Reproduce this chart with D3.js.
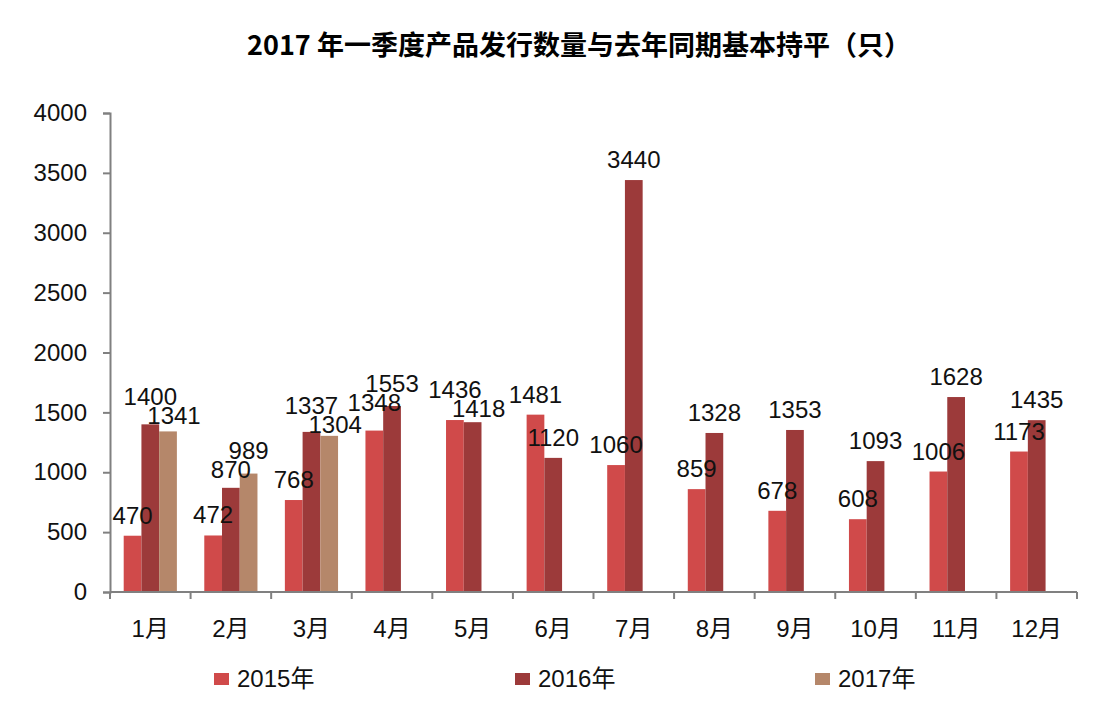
<!DOCTYPE html>
<html><head><meta charset="utf-8">
<script src="https://cdn.jsdelivr.net/npm/d3@7"></script>
<style>
body{margin:0;background:#fff;}
text{font-family:"Liberation Sans","Noto Sans CJK SC",Arial,sans-serif;}
</style></head>
<body><svg id="c" width="1118" height="711"></svg>
<script>
const months = ["1月","2月","3月","4月","5月","6月","7月","8月","9月","10月","11月","12月"];
const seriesNames = ["2015年","2016年","2017年"];
const v2015 = [470,472,768,1348,1436,1481,1060,859,678,608,1006,1173];
const v2016 = [1400,870,1337,1553,1418,1120,3440,1328,1353,1093,1628,1435];
const v2017 = [1341,989,1304,null,null,null,null,null,null,null,null,null];
const yTicks = [0,500,1000,1500,2000,2500,3000,3500,4000];
const colors = ["#d04a4a","#9c3a3a","#b5876a"];
const title = "2017 年一季度产品发行数量与去年同期基本持平（只）";

const svg = d3.select("#c");
const L=110, R=1077, T=113, B=592;
const x0 = d3.scaleBand().domain(months).range([L,R]).paddingInner(0.34).paddingOuter(0.17);
const x1 = d3.scaleBand().domain(seriesNames).range([0,x0.bandwidth()]);
const y = d3.scaleLinear().domain([0,4000]).range([B,T]);
const all = [v2015,v2016,v2017];

svg.append("text").attr("x",579).attr("y",55).attr("text-anchor","middle")
  .attr("font-size",27).attr("font-weight","bold").attr("fill","#000")
  .style("font-family","'Noto Sans CJK SC',sans-serif").text(title);

// bars
all.forEach((arr,si)=>{
  const g = svg.append("g");
  months.forEach((m,i)=>{
    const v = arr[i];
    if(v==null) return;
    g.append("rect").attr("x",x0(m)+x1(seriesNames[si])).attr("y",y(v))
      .attr("width",x1.bandwidth()).attr("height",y(0)-y(v)).attr("fill",colors[si]);
  });
});

// labels with simple collision relaxation
const FS=24, CW=FS*0.556, H=19;
const labels=[];
all.forEach((arr,si)=>{
  months.forEach((m,i)=>{
    const v=arr[i]; if(v==null) return;
    const w=String(v).length*CW;
    labels.push({v, si, x:x0(m)+x1(seriesNames[si])+x1.bandwidth()/2, y:y(v)-12, w, moved:false});
  });
});
for(let it=0;it<40;it++){
  for(let a=0;a<labels.length;a++)for(let b=a+1;b<labels.length;b++){
    const A=labels[a],B2=labels[b];
    const ox=(A.w+B2.w)/2 - Math.abs(A.x-B2.x);
    const oy=H - Math.abs(A.y-B2.y);
    if(ox>2 && oy>0){
      const hi = A.y<=B2.y?A:B2, lo = hi===A?B2:A;
      hi.y-=oy*0.6; lo.y+=oy*0.4;
      if(!lo.moved && lo.x>hi.x){ lo.x+=6; lo.moved=true; }
    }
  }
}
labels.forEach(d=>{
  svg.append("text").attr("x",d.x).attr("y",d.y).attr("text-anchor","middle")
    .attr("font-size",FS).attr("fill","#111").text(d.v);
});

// axes
const ya = svg.append("g").attr("transform",`translate(${L},0)`)
  .call(d3.axisLeft(y).tickValues(yTicks).tickSize(7).tickPadding(16).tickFormat(d3.format("d")));
ya.select(".domain").attr("stroke","#808080").attr("stroke-width",2);
ya.selectAll(".tick line").attr("stroke","#808080").attr("stroke-width",2);
ya.selectAll("text").attr("font-size",24).attr("fill","#111").style("font-family","'Liberation Sans',Arial,sans-serif");

const xa = svg.append("g").attr("transform",`translate(0,${B})`);
xa.append("line").attr("x1",L).attr("x2",R).attr("y1",0).attr("y2",0).attr("stroke","#808080").attr("stroke-width",2);
const edges = months.map(m=>x0(m)-x0.step()*x0.paddingInner()/2).concat([R]);
edges.forEach(e=>xa.append("line").attr("x1",e).attr("x2",e).attr("y1",0).attr("y2",7).attr("stroke","#808080").attr("stroke-width",2));
months.forEach(m=>xa.append("text").attr("x",x0(m)+x0.bandwidth()/2).attr("y",45)
  .attr("text-anchor","middle").attr("font-size",24).attr("fill","#111").text(m));

// legend
const legX = [214,515,815];
seriesNames.forEach((s,i)=>{
  svg.append("rect").attr("x",legX[i]).attr("y",673).attr("width",15).attr("height",12).attr("fill",colors[i]);
  svg.append("text").attr("x",legX[i]+23).attr("y",687).attr("font-size",24).attr("fill","#111").text(s);
});
</script></body></html>
